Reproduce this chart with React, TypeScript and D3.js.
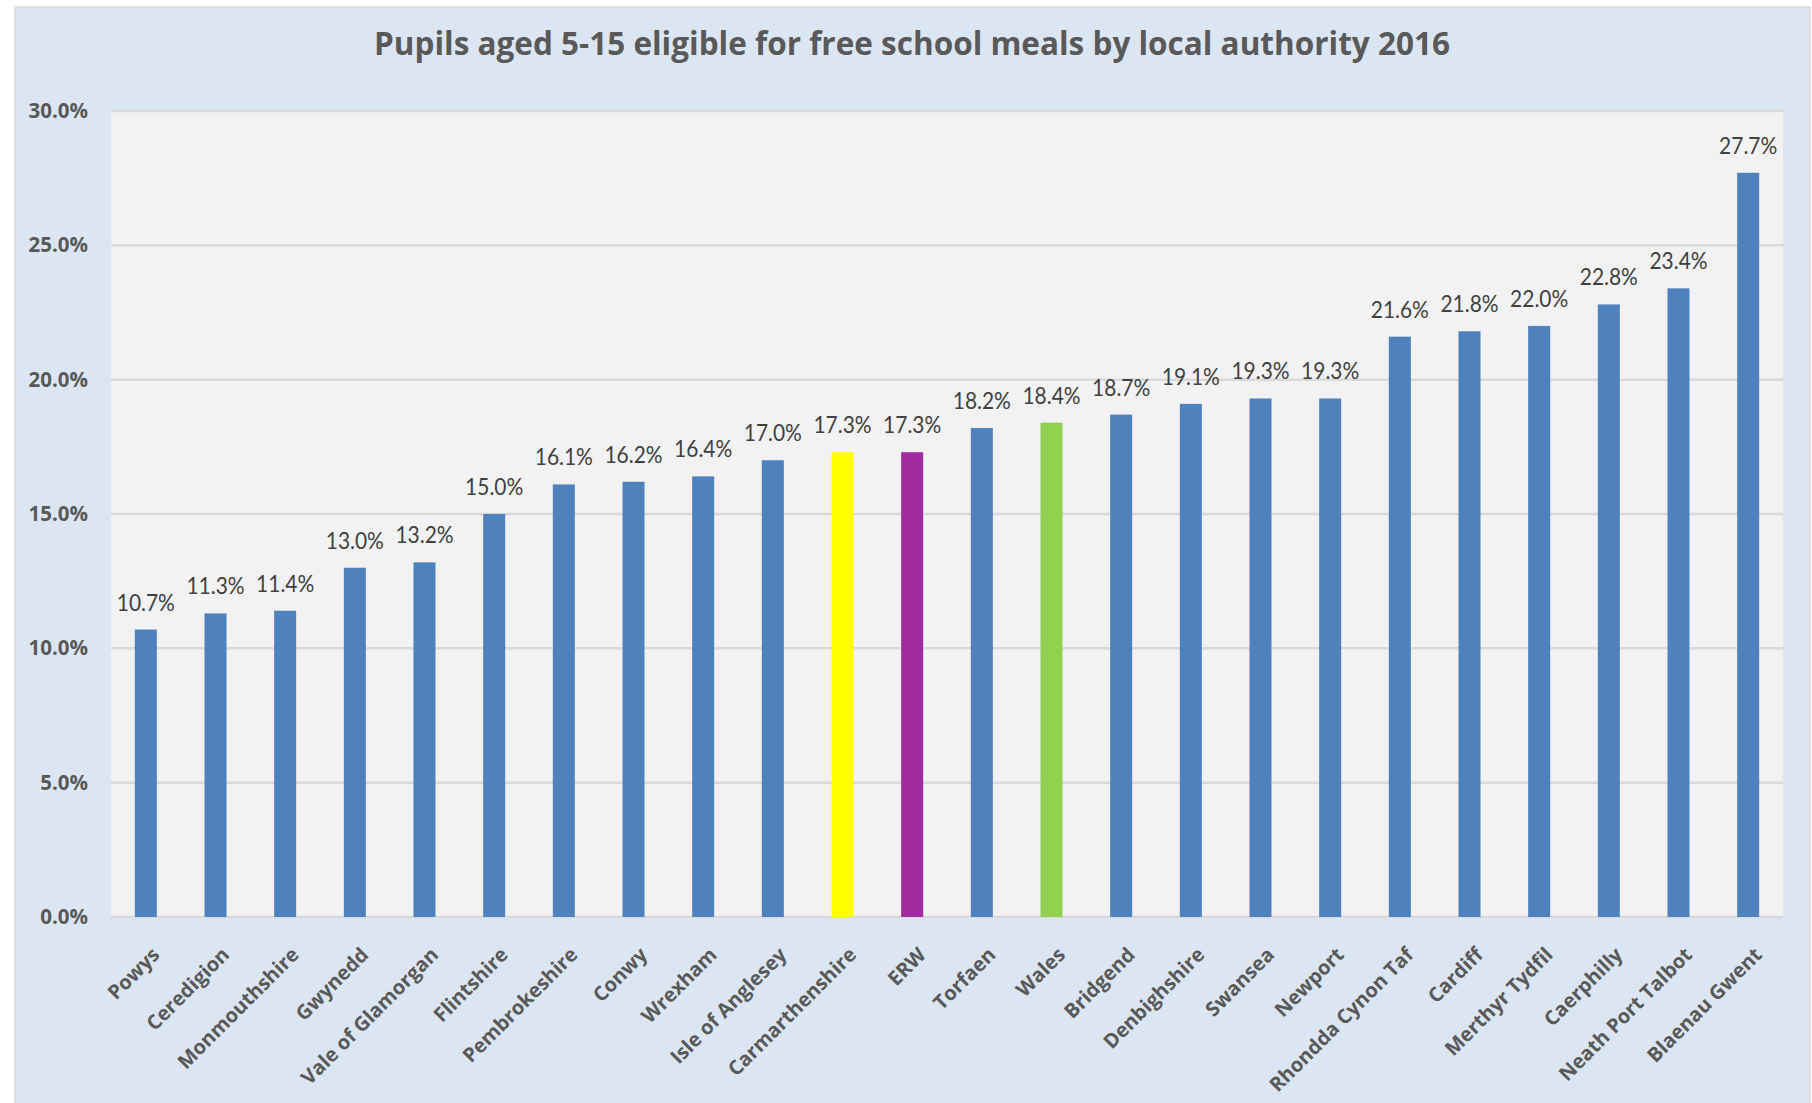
import React, { useRef, useEffect } from 'react';
import * as d3 from 'd3';

const categories = [
  'Powys', 'Ceredigion', 'Monmouthshire', 'Gwynedd', 'Vale of Glamorgan', 'Flintshire',
  'Pembrokeshire', 'Conwy', 'Wrexham', 'Isle of Anglesey', 'Carmarthenshire', 'ERW',
  'Torfaen', 'Wales', 'Bridgend', 'Denbighshire', 'Swansea', 'Newport',
  'Rhondda Cynon Taf', 'Cardiff', 'Merthyr Tydfil', 'Caerphilly', 'Neath Port Talbot', 'Blaenau Gwent',
];
const values = [
  10.7, 11.3, 11.4, 13.0, 13.2, 15.0, 16.1, 16.2, 16.4, 17.0, 17.3, 17.3,
  18.2, 18.4, 18.7, 19.1, 19.3, 19.3, 21.6, 21.8, 22.0, 22.8, 23.4, 27.7,
];
const yTicks = [0, 5, 10, 15, 20, 25, 30];
const highlight: Record<string, string> = {
  Carmarthenshire: '#FFFF00',
  ERW: '#A02B9F',
  Wales: '#92D050',
};

const App = () => {
  const svgRef = useRef<SVGSVGElement>(null);

  useEffect(() => {
    const W = 1812;
    const H = 1103;
    const plot = { left: 111, top: 111, right: 1783, bottom: 917 };
    const labelFont = '"Open Sans", sans-serif';
    const valueFont = 'Lato, sans-serif';

    const svg = d3.select(svgRef.current).attr('width', W).attr('height', H);
    svg.selectAll('*').remove();

    // chart background
    svg.append('rect').attr('width', W).attr('height', H).attr('fill', '#ffffff');
    svg
      .append('rect')
      .attr('x', 15)
      .attr('y', 7)
      .attr('width', 1795)
      .attr('height', H)
      .attr('fill', '#DCE6F2')
      .attr('stroke', '#D9D9D9')
      .attr('stroke-width', 1.5);

    // plot area
    svg
      .append('rect')
      .attr('x', plot.left)
      .attr('y', plot.top)
      .attr('width', plot.right - plot.left)
      .attr('height', plot.bottom - plot.top)
      .attr('fill', '#F2F2F2');

    const x = d3
      .scaleBand()
      .domain(categories)
      .range([plot.left, plot.right])
      .paddingInner(0.684)
      .paddingOuter(0.342);

    const y = d3.scaleLinear().domain([0, 30]).range([plot.bottom, plot.top]);

    // gridlines
    svg
      .append('g')
      .selectAll('line')
      .data(yTicks)
      .join('line')
      .attr('x1', plot.left)
      .attr('x2', plot.right)
      .attr('y1', (d) => y(d))
      .attr('y2', (d) => y(d))
      .attr('stroke', '#D9D9D9')
      .attr('stroke-width', 2.5);

    // y-axis labels
    svg
      .append('g')
      .selectAll('text')
      .data(yTicks)
      .join('text')
      .attr('x', 88)
      .attr('y', (d) => y(d) + 7)
      .attr('text-anchor', 'end')
      .attr('fill', '#595959')
      .attr('font-family', labelFont)
      .attr('font-weight', 'bold')
      .attr('font-size', 20.5)
      .text((d) => `${d.toFixed(1)}%`);

    // bars
    svg
      .append('g')
      .selectAll('rect')
      .data(categories)
      .join('rect')
      .attr('x', (d) => x(d)!)
      .attr('y', (d, i) => y(values[i]))
      .attr('width', x.bandwidth())
      .attr('height', (d, i) => y(0) - y(values[i]))
      .attr('fill', (d) => highlight[d] || '#4F81BD');

    // data labels (slightly condensed, like the original)
    svg
      .append('g')
      .selectAll('text')
      .data(categories)
      .join('text')
      .attr('transform', (d, i) => {
        const cx = x(d)! + x.bandwidth() / 2;
        return `translate(${cx},${y(values[i]) - 19}) scale(0.91,1)`;
      })
      .attr('text-anchor', 'middle')
      .attr('fill', '#404040')
      .attr('font-family', valueFont)
      .attr('font-size', 23)
      .text((d, i) => `${values[i].toFixed(1)}%`);

    // x-axis labels
    svg
      .append('g')
      .selectAll('text')
      .data(categories)
      .join('text')
      .attr('transform', (d) => {
        const cx = x(d)! + x.bandwidth() / 2 + 15;
        return `translate(${cx},${plot.bottom + 39}) rotate(-45)`;
      })
      .attr('text-anchor', 'end')
      .attr('fill', '#595959')
      .attr('font-family', labelFont)
      .attr('font-weight', 'bold')
      .attr('font-size', 20)
      .text((d) => d);

    // title
    svg
      .append('text')
      .attr('x', 912)
      .attr('y', 55)
      .attr('text-anchor', 'middle')
      .attr('fill', '#595959')
      .attr('font-family', labelFont)
      .attr('font-weight', 'bold')
      .attr('font-size', 31.5)
      .text('Pupils aged 5-15 eligible for free school meals by local authority 2016');
  }, []);

  return (
    <svg
      ref={svgRef}
      style={{ position: 'absolute', left: 0, top: 0, display: 'block' }}
    ></svg>
  );
};

export default App;
